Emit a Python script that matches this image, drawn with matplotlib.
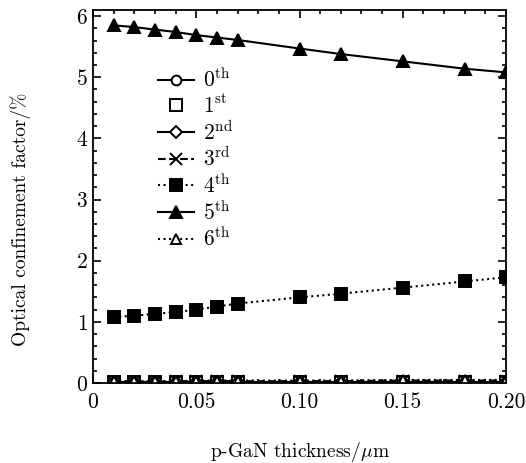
import matplotlib
matplotlib.use('Agg')
import matplotlib.pyplot as plt
from matplotlib.ticker import MultipleLocator

plt.rcParams['font.family'] = 'serif'
plt.rcParams['font.serif'] = ['cmr10']
plt.rcParams['mathtext.fontset'] = 'cm'
plt.rcParams['axes.formatter.use_mathtext'] = True

thickness = [0.01, 0.02, 0.03, 0.04, 0.05, 0.06, 0.07, 0.10, 0.12, 0.15, 0.18, 0.20]
mode0 = [0.02, 0.02, 0.02, 0.02, 0.02, 0.02, 0.02, 0.02, 0.02, 0.02, 0.02, 0.02]
mode1 = [0.01, 0.01, 0.01, 0.01, 0.01, 0.01, 0.01, 0.01, 0.01, 0.01, 0.01, 0.01]
mode2 = [0.01, 0.01, 0.01, 0.01, 0.01, 0.01, 0.01, 0.01, 0.01, 0.01, 0.01, 0.01]
mode3 = [0.02, 0.02, 0.02, 0.03, 0.03, 0.03, 0.03, 0.03, 0.03, 0.04, 0.04, 0.04]
mode4 = [1.08, 1.10, 1.13, 1.16, 1.20, 1.25, 1.30, 1.40, 1.46, 1.56, 1.66, 1.73]
mode5 = [5.85, 5.82, 5.78, 5.74, 5.69, 5.65, 5.61, 5.47, 5.38, 5.26, 5.14, 5.08]
mode6 = [0.03, 0.03, 0.03, 0.03, 0.04, 0.04, 0.04, 0.04, 0.04, 0.05, 0.05, 0.05]
labels = [r'0$^{\rm th}$', r'1$^{\rm st}$', r'2$^{\rm nd}$', r'3$^{\rm rd}$',
          r'4$^{\rm th}$', r'5$^{\rm th}$', r'6$^{\rm th}$']

fig = plt.figure(figsize=(5.26, 4.63), dpi=100)
ax = fig.add_axes([93 / 526, 80 / 463, 413 / 526, 373 / 463])

k = dict(color='black', lw=1.5, mew=1.4)
ax.plot(thickness, mode0, ls='-', marker='o', ms=7, mfc='white', label=labels[0], **k)
ax.plot(thickness, mode1, ls='none', marker='s', ms=8, mfc='white', label=labels[1], **k)
ax.plot(thickness, mode2, ls='-', marker='D', ms=6, mfc='white', label=labels[2], **k)
ax.plot(thickness, mode3, ls='--', marker='x', ms=8, label=labels[3], **k)
ax.plot(thickness, mode4, ls=':', marker='s', ms=8, mfc='black', label=labels[4], **k)
ax.plot(thickness, mode5, ls='-', marker='^', ms=8, mfc='black', label=labels[5], **k)
ax.plot(thickness, mode6, ls=':', marker='^', ms=7, mfc='white', label=labels[6], **k)

ax.set_xlim(0, 0.20)
ax.set_ylim(0, 6.1)
ax.set_xticks([0, 0.05, 0.10, 0.15, 0.20])
ax.set_xticklabels(['0', '0.05', '0.10', '0.15', '0.20'])
ax.set_yticks(range(7))
ax.xaxis.set_minor_locator(MultipleLocator(0.01))
ax.yaxis.set_minor_locator(MultipleLocator(0.2))
ax.tick_params(which='both', direction='in', top=True, right=True, labelsize=15.5, width=1.2)
ax.tick_params(which='major', length=6)
ax.tick_params(which='minor', length=3)
ax.tick_params(axis='x', pad=7)
for s in ax.spines.values():
    s.set_linewidth(1.3)

ax.set_xlabel(r'p-GaN thickness/$\mu$m', fontsize=14, labelpad=20)
ax.set_ylabel('Optical confinement factor/%', fontsize=14)
ax.yaxis.set_label_coords(-0.15, 0.44)

ax.legend(loc='upper left', bbox_to_anchor=(0.11, 0.897), frameon=False, fontsize=15.5,
          handlelength=1.7, labelspacing=0.15, handletextpad=0.4)

fig.savefig('out.png', dpi=100)
